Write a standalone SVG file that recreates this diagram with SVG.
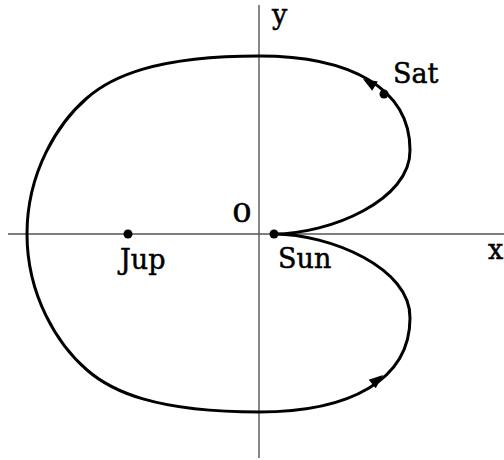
<svg xmlns="http://www.w3.org/2000/svg" width="504" height="460" viewBox="0 0 504 460">
<style>
.axis{stroke:#555;stroke-width:1.4;fill:none}
.orbit{stroke:#000;stroke-width:3;fill:none;stroke-linejoin:round}
.lbl{font-family:"DejaVu Serif","Liberation Serif",serif;font-size:27px;fill:#000;stroke:#000;stroke-width:0.5}
.dot{fill:#000}
.arr{fill:#000}
</style>
<rect width="504" height="460" fill="#fff"/>
<g id="axes">
<line class="axis" x1="259" y1="5" x2="259" y2="458"/>
<line class="axis" x1="8" y1="234" x2="504" y2="234"/>
<text class="lbl" x="272" y="24">y</text>
<text class="lbl" x="488" y="259">x</text>
<text class="lbl" x="232" y="222" transform="translate(232 222) scale(1.2 1) translate(-232 -222)" style="font-size:26px">0</text>
</g>
<g id="connectors">
<path class="orbit" d="M274,234 C330,234 411,200 410,150 C410,88 350,56 259,56 C155,56 111,77 87,98 C58,123 27,172 27,234 C27,296 58,345 87,370 C111,391 155,412 259,412 C350,412 410,380 410,318 C411,268 330,234 274,234 Z"/>
<polygon class="arr" points="363,79 377.8,81.4 372.2,90.8"/>
<polygon class="arr" points="383,375 375.7,388.2 368.7,379.8"/>
</g>
<g id="sun">
<circle class="dot" cx="274" cy="234" r="4.5"/>
<text class="lbl" x="278" y="268">Sun</text>
</g>
<g id="jup">
<circle class="dot" cx="128" cy="234" r="4.5"/>
<text class="lbl" x="120" y="269">Jup</text>
</g>
<g id="sat">
<circle class="dot" cx="384" cy="94" r="4.5"/>
<text class="lbl" x="393" y="83">Sat</text>
</g>
</svg>
